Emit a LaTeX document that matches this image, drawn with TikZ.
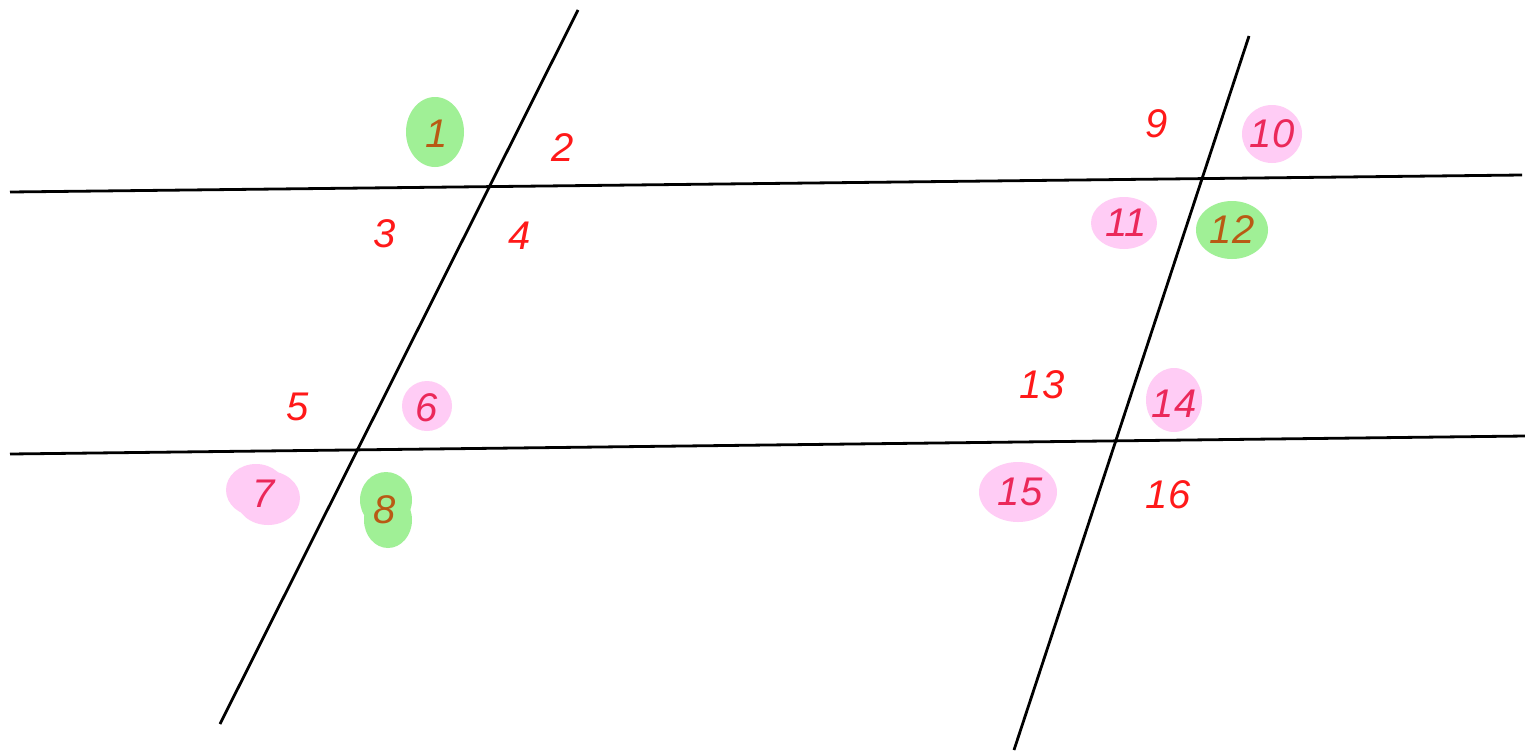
\documentclass[tikz,border=0pt]{standalone}
\usepackage{fontspec}
\setmainfont{Liberation Sans}
\definecolor{blobgreen}{RGB}{160,240,150}
\definecolor{blobpink}{RGB}{255,204,245}
\definecolor{numred}{RGB}{255,25,25}
\definecolor{numbrown}{RGB}{185,90,20}
\definecolor{numpink}{RGB}{235,40,90}
\begin{document}
\begin{tikzpicture}[x=1pt,y=-1pt,
  ln/.style={line width=2.8pt,black},
  num/.style={font=\fontsize{40}{42}\selectfont\itshape,text=numred,inner sep=0pt},
  ong/.style={num,text=numbrown},
  onp/.style={num,text=numpink}]
\useasboundingbox (0,0) rectangle (1525,753);
\fill[white] (0,0) rectangle (1525,753);
% blobs
\fill[blobgreen] (435,132) ellipse [x radius=29,y radius=35];
\fill[blobgreen] (386,500) ellipse [x radius=26,y radius=28];
\fill[blobgreen] (388,520) ellipse [x radius=24,y radius=28];
\fill[blobgreen] (1232,230) ellipse [x radius=36,y radius=29];
\fill[blobpink] (427,406) circle [radius=25];
\fill[blobpink] (256,490) ellipse [x radius=30,y radius=26];
\fill[blobpink] (268,498) ellipse [x radius=32,y radius=27];
\fill[blobpink] (1272,134) ellipse [x radius=30,y radius=29];
\fill[blobpink] (1124,223) ellipse [x radius=33,y radius=26];
\fill[blobpink] (1174,400) ellipse [x radius=28,y radius=32];
\fill[blobpink] (1018,492) ellipse [x radius=39,y radius=30];
% lines
\coordinate (h1a) at (10,192); \coordinate (h1b) at (1522,175);
\coordinate (h2a) at (10,454); \coordinate (h2b) at (1525,436);
\coordinate (t1a) at (578,10); \coordinate (t1b) at (220,724);
\coordinate (t2a) at (1249,36); \coordinate (t2b) at (1014,750);
\draw[ln] (h1a) -- (h1b);
\draw[ln] (h2a) -- (h2b);
\draw[ln] (t1a) -- (t1b);
\draw[ln] (t2a) -- (t2b);
% numbers
\node[ong] (n1) at (437,134) {1};
\node[num] (n2) at (563,148) {2};
\node[num] (n3) at (385,234) {3};
\node[num] (n4) at (520,236) {4};
\node[num] (n5) at (298,407) {5};
\node[onp] (n6) at (427,408) {6};
\node[onp] (n7) at (264,494) {7};
\node[ong] (n8) at (385,510) {8};
\node[num] (n9) at (1157,124) {9};
\node[onp] (n10) at (1272,134) {10};
\node[onp] (n11) at (1126,223) {11};
\node[ong] (n12) at (1232,230) {12};
\node[num] (n13) at (1042,385) {13};
\node[onp] (n14) at (1174,404) {14};
\node[onp] (n15) at (1020,492) {15};
\node[num] (n16) at (1168,495) {16};
\end{tikzpicture}
\end{document}
